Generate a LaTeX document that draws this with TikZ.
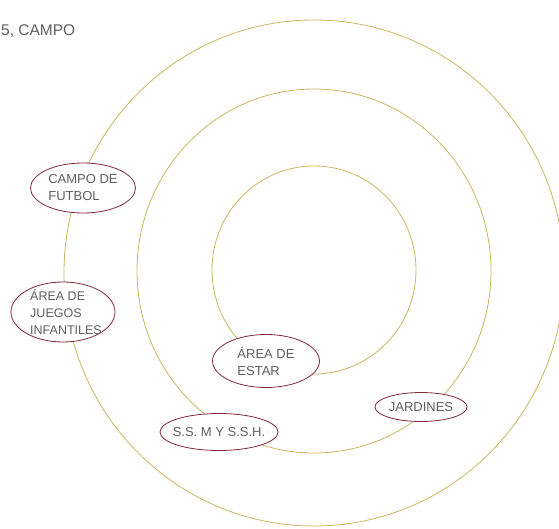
\documentclass[tikz,border=0pt]{standalone}
\usepackage{fontspec}
\setmainfont{Liberation Sans}
\usetikzlibrary{shapes.geometric}

\definecolor{ringcol}{RGB}{200,182,96}
\definecolor{zonecol}{RGB}{128,40,60}
\definecolor{textcol}{RGB}{95,95,95}

\begin{document}
\begin{tikzpicture}[
  x=1pt, y=-1pt,
  ring/.style={draw=ringcol, line width=0.8pt},
  zone/.style={draw=zonecol, fill=white, ellipse, inner sep=0pt, line width=0.8pt},
  zonetext/.style={align=left, text=textcol, inner sep=0pt, font=\fontsize{13}{17}\selectfont},
  title/.style={text=textcol, inner sep=0pt, font=\fontsize{15.5}{18}\selectfont}
]
\useasboundingbox (0,0) rectangle (559,529);

% rings
\coordinate (c) at (314,270);
\draw[ring] (c) ellipse [x radius=102pt, y radius=104pt];
\draw[ring] ([yshift=-1pt]c) ellipse [x radius=177pt, y radius=182pt];
\draw[ring] ([yshift=-3pt]c) ellipse [x radius=250pt, y radius=253pt];

\node[title, anchor=west] (title) at (1,31) {5, CAMPO};

% zones
\node[zone, minimum width=105pt, minimum height=50pt,
  label={[zonetext]center:CAMPO DE\\FUTBOL}] (futbol) at (83,188) {};
\node[zone, minimum width=104pt, minimum height=60pt,
  label={[zonetext, xshift=3pt, font=\fontsize{12.5}{17}\selectfont]center:ÁREA DE\\JUEGOS\\INFANTILES}] (juegos) at (63,312) {};
\node[zone, minimum width=107pt, minimum height=53pt,
  label={[zonetext]center:ÁREA DE\\ESTAR}] (estar) at (266,361) {};
\node[zone, minimum width=92pt, minimum height=29pt,
  label={[zonetext]center:JARDINES}] (jardines) at (421,407) {};
\node[zone, minimum width=118pt, minimum height=37pt,
  label={[zonetext]center:S.S. M Y S.S.H.}] (sanitarios) at (219,432) {};

\end{tikzpicture}
\end{document}
